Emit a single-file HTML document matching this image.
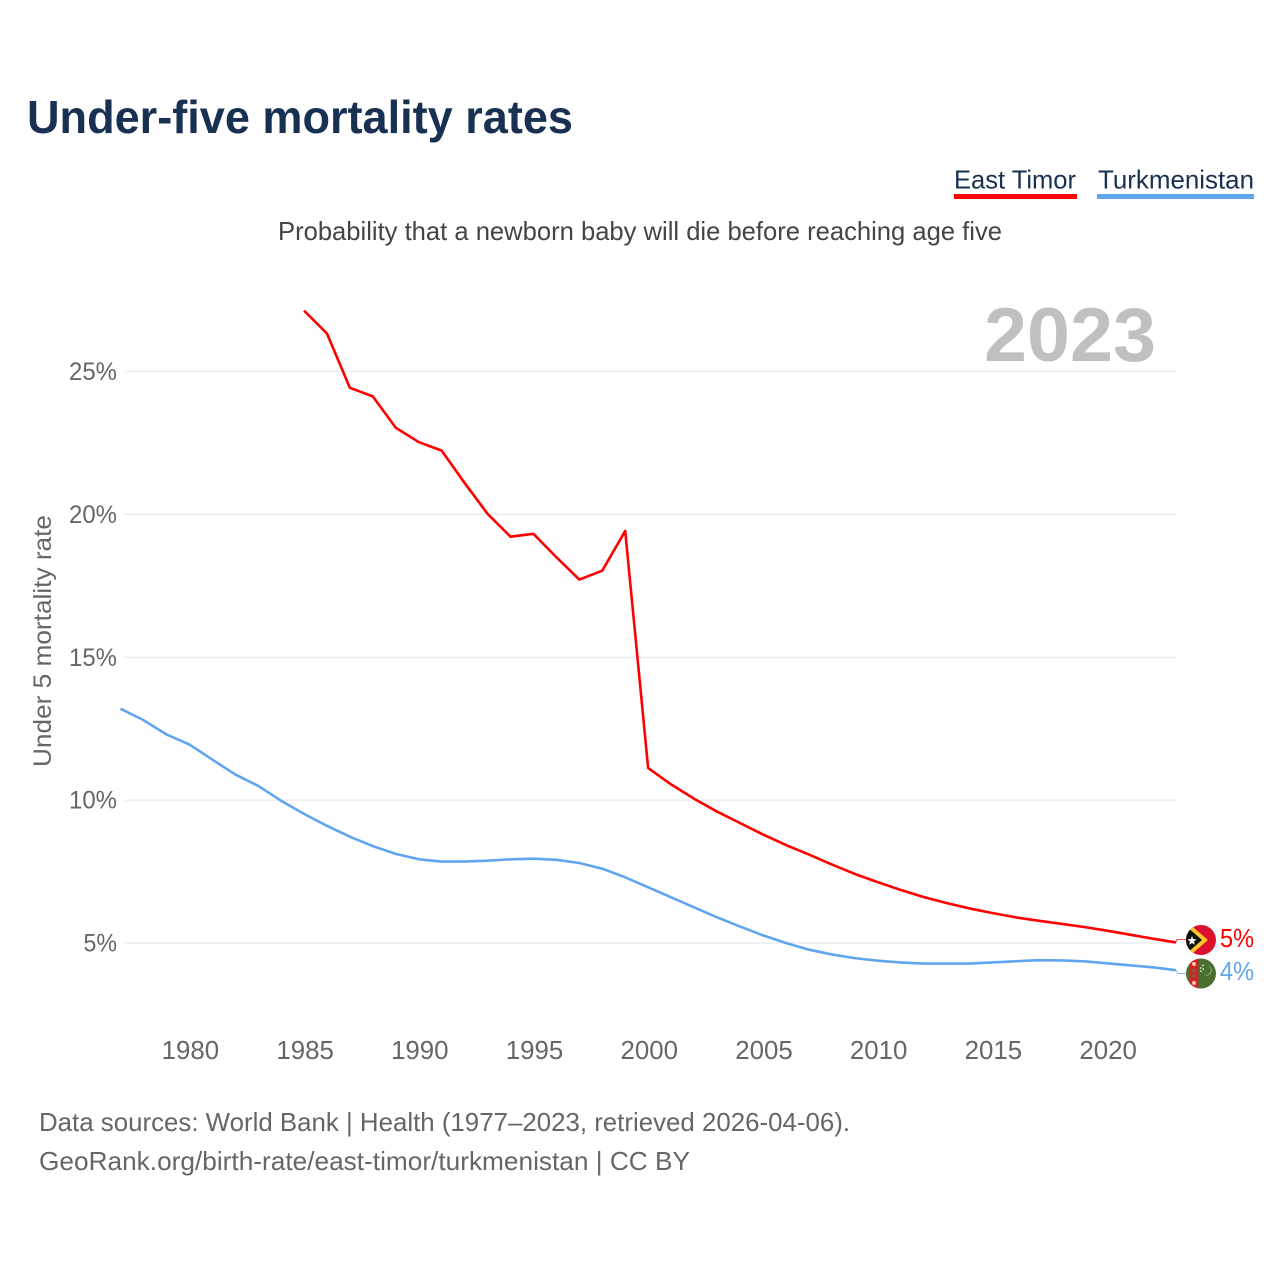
<!DOCTYPE html>
<html lang="en">
<head>
<meta charset="utf-8">
<title>Under-five mortality rates</title>
<style>
html,body{margin:0;padding:0;background:#fff;width:1280px;height:1280px;overflow:hidden}
svg{display:block}
text{font-family:"Liberation Sans",sans-serif}
</style>
</head>
<body>
<svg id="chart" xmlns="http://www.w3.org/2000/svg" width="1280" height="1280" viewBox="0 0 1280 1280">
  <defs>
    <clipPath id="clip-tl"><circle cx="1201" cy="940" r="15"/></clipPath>
    <clipPath id="clip-tm"><circle cx="1201" cy="973.5" r="15"/></clipPath>
  </defs>
  <text x="27" y="133" font-size="46" font-weight="700" fill="#183153" textLength="546" lengthAdjust="spacingAndGlyphs">Under-five mortality rates</text>
  <g>
    <text x="954" y="188.5" font-size="26" fill="#183153" textLength="122" lengthAdjust="spacingAndGlyphs">East Timor</text>
    <rect x="954" y="194" width="123" height="5" fill="#ff0000"/>
  </g>
  <g>
    <text x="1098" y="188.5" font-size="26" fill="#183153" textLength="156" lengthAdjust="spacingAndGlyphs">Turkmenistan</text>
    <rect x="1097" y="194" width="157" height="5" fill="#60a5ee"/>
  </g>
  <text x="278" y="240" font-size="26" fill="#444" textLength="724" lengthAdjust="spacingAndGlyphs">Probability that a newborn baby will die before reaching age five</text>
  <g id="grid"></g>
  <text x="984" y="361" font-size="76" font-weight="700" fill="#c0c0c0" textLength="172" lengthAdjust="spacingAndGlyphs">2023</text>
  <g id="yticks"></g>
  <g id="xticks"></g>
  <text transform="translate(51,767) rotate(-90)" font-size="25" fill="#666" textLength="252" lengthAdjust="spacingAndGlyphs">Under 5 mortality rate</text>
  <g id="series"></g>

  <g clip-path="url(#clip-tl)">
    <rect x="1186" y="925" width="30" height="30" fill="#dc0f2f"/>
    <polygon points="1186,921 1208,940 1186,959" fill="#ffc726"/>
    <polygon points="1186,926 1202,940 1186,954" fill="#111"/>
    <polygon points="1192,936 1193.2,939 1196.5,939.3 1194,941.5 1194.8,944.7 1192,943 1189.2,944.7 1190,941.5 1187.5,939.3 1190.8,939" fill="#f4f4f4"/>
  </g>
  <g clip-path="url(#clip-tm)">
    <rect x="1186" y="958" width="30" height="31" fill="#4a7030"/>
    <rect x="1190" y="958" width="8.3" height="31" fill="#d2232c"/>
    <circle cx="1194" cy="964" r="2" fill="#f2c9a0"/>
    <rect x="1192" y="969" width="4" height="3" fill="#8a5a3a"/>
    <rect x="1192" y="974.5" width="4" height="3" fill="#8a5a3a"/>
    <circle cx="1194" cy="983" r="2" fill="#f2c9a0"/>
    <path d="M1208 965a5.5 5.5 0 0 1-4 10.2a5 5 0 0 0 4-10.2z" fill="#e8efe0"/>
    <circle cx="1203" cy="965.5" r="0.9" fill="#dfe8d8"/>
    <circle cx="1200.7" cy="968" r="0.9" fill="#dfe8d8"/>
    <circle cx="1203.3" cy="969" r="0.9" fill="#dfe8d8"/>
    <circle cx="1201" cy="971.3" r="0.9" fill="#dfe8d8"/>
  </g>
  <text x="1220" y="947" font-size="26" fill="#ff0000" textLength="34" lengthAdjust="spacingAndGlyphs">5%</text>
  <text x="1220" y="980" font-size="26" fill="#60a5ee" textLength="34" lengthAdjust="spacingAndGlyphs">4%</text>

  <text x="39" y="1131" font-size="26" fill="#666" textLength="811" lengthAdjust="spacingAndGlyphs">Data sources: World Bank | Health (1977–2023, retrieved 2026-04-06).</text>
  <text x="39" y="1170" font-size="26" fill="#666" textLength="651" lengthAdjust="spacingAndGlyphs">GeoRank.org/birth-rate/east-timor/turkmenistan | CC BY</text>
</svg>
<script>
const eastTimorYears = [1985,1986,1987,1988,1989,1990,1991,1992,1993,1994,1995,1996,1997,1998,1999,2000,2001,2002,2003,2004,2005,2006,2007,2008,2009,2010,2011,2012,2013,2014,2015,2016,2017,2018,2019,2020,2021,2022,2023];
const eastTimorValues = [27.13,26.33,24.43,24.13,23.03,22.53,22.23,21.1,20.02,19.22,19.32,18.5,17.72,18.03,19.42,11.12,10.55,10.05,9.6,9.2,8.8,8.43,8.1,7.75,7.42,7.13,6.86,6.61,6.4,6.21,6.05,5.9,5.78,5.67,5.56,5.43,5.29,5.15,5.02];
const turkmenistanYears = [1977,1978,1979,1980,1981,1982,1983,1984,1985,1986,1987,1988,1989,1990,1991,1992,1993,1994,1995,1996,1997,1998,1999,2000,2001,2002,2003,2004,2005,2006,2007,2008,2009,2010,2011,2012,2013,2014,2015,2016,2017,2018,2019,2020,2021,2022,2023];
const turkmenistanValues = [13.2,12.8,12.3,11.95,11.42,10.9,10.5,9.98,9.52,9.1,8.72,8.39,8.12,7.93,7.85,7.85,7.88,7.93,7.95,7.91,7.8,7.6,7.3,6.95,6.6,6.25,5.9,5.58,5.27,5.0,4.77,4.6,4.47,4.38,4.32,4.28,4.28,4.28,4.32,4.36,4.4,4.39,4.36,4.29,4.22,4.15,4.05];
const xTickYears = [1980,1985,1990,1995,2000,2005,2010,2015,2020];
const yTickValues = [5,10,15,20,25];

const SVG_NS = 'http://www.w3.org/2000/svg';
function xScale(year){ return 189.3 + (year - 1980) * (1107 - 189.3) / 40; }
function yScale(value){ return 943 - (value - 5) * (943 - 371.5) / 20; }
function make(tag, attrs, parent){
  const el = document.createElementNS(SVG_NS, tag);
  for (const k in attrs) el.setAttribute(k, attrs[k]);
  parent.appendChild(el);
  return el;
}
const grid = document.getElementById('grid');
const yticks = document.getElementById('yticks');
const xticks = document.getElementById('xticks');
const series = document.getElementById('series');

yTickValues.forEach(function(v){
  const line = make('line', {x1:125, x2:1176, y1:yScale(v), y2:yScale(v), stroke:'#e8e8e8', 'stroke-width':1.2}, grid);
  
  
  const text = v + '%';
  const label = make('text', {x:117, y:yScale(v) + 8.5, 'text-anchor':'end', 'font-size':25, fill:'#666', textLength:(text.length - 1) * 14.5 + 19, lengthAdjust:'spacingAndGlyphs'}, yticks);
  label.textContent = text;
  
  
});
xTickYears.forEach(function(y){
  const label = make('text', {x:xScale(y) + 1.1, y:1059, 'text-anchor':'middle', 'font-size':26, fill:'#666', textLength:57.5, lengthAdjust:'spacingAndGlyphs'}, xticks);
  label.textContent = String(y);
  
  
});
function linePath(years, values){
  return years.map(function(y, i){ return (i ? 'L' : 'M') + xScale(y).toFixed(2) + ' ' + yScale(values[i]).toFixed(2); }).join(' ');
}
const tmLine = make('path', {d:linePath(turkmenistanYears, turkmenistanValues), fill:'none', stroke:'#60a5ee', 'stroke-width':2.6, 'stroke-linejoin':'round'}, series);


const etLine = make('path', {d:linePath(eastTimorYears, eastTimorValues), fill:'none', stroke:'#ff0000', 'stroke-width':2.6, 'stroke-linejoin':'round'}, series);


const etEnd = eastTimorValues[eastTimorValues.length - 1];
const tmEnd = turkmenistanValues[turkmenistanValues.length - 1];
const etLead = make('path', {d:'M' + xScale(2023) + ' ' + yScale(etEnd) + ' L1177 939.5 L1186 939.5', fill:'none', stroke:'#ff0000', 'stroke-width':1, opacity:0.7}, series);


const tmLead = make('path', {d:'M' + xScale(2023) + ' ' + yScale(tmEnd) + ' L1178 973.5 L1186 973.5', fill:'none', stroke:'#60a5ee', 'stroke-width':1, opacity:0.8}, series);


</script>
</body>
</html>
